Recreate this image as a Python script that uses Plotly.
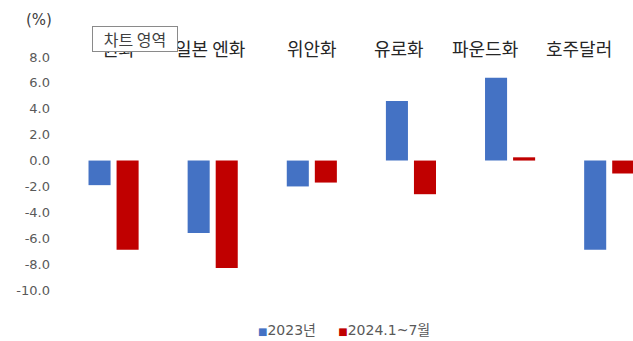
import plotly.graph_objects as go

categories = ["원화", "일본 엔화", "위안화", "유로화", "파운드화", "호주달러"]
series_2023 = [-1.9, -5.6, -2.0, 4.6, 6.4, -6.9]
series_2024 = [-6.9, -8.3, -1.7, -2.6, 0.25, -1.0]
series_names = ["2023년", "2024.1~7월"]
series_colors = ["#4472C4", "#C00000"]
y_ticks = [8, 6, 4, 2, 0, -2, -4, -6, -8, -10]
y_tick_labels = ["8.0", "6.0", "4.0", "2.0", "0.0", "-2.0", "-4.0", "-6.0", "-8.0", "-10.0"]

FONT = "DejaVu Sans, Noto Sans CJK KR"
KFONT = "Noto Sans CJK KR"
W, H = 633, 341
ML, MR, MT, MB = 64, 0, 57, 51
plot_w = W - ML - MR
plot_h = H - MT - MB

def px_to_paper_x(px):
    return (px - ML) / plot_w

def px_to_paper_y(py):
    return (H - MB - py) / plot_h

fig = go.Figure()
for name, vals, col in zip(series_names, [series_2023, series_2024], series_colors):
    fig.add_trace(go.Bar(x=categories, y=vals, name=name,
                         marker=dict(color=col, line=dict(width=0))))

legend_text = "&nbsp;&nbsp;&nbsp;&nbsp;&nbsp;".join(
    f'<span style="color:{c};font-size:10px">■</span>{n}'
    for n, c in zip(series_names, series_colors)
)

# header labels sit in their own text row above the plot (layout positions, in pixels)
header_label_px = [118, 210, 312, 399, 485, 579]
header_annotations = [
    dict(text=cat, xref="paper", yref="paper",
         x=px_to_paper_x(px), y=px_to_paper_y(48),
         xanchor="center", yanchor="middle", showarrow=False,
         font=dict(family=KFONT, size=18, color="#262626"))
    for cat, px in zip(categories, header_label_px)
]

fig.update_layout(
    width=W, height=H,
    margin=dict(l=ML, r=MR, t=MT, b=MB),
    paper_bgcolor="white", plot_bgcolor="white",
    barmode="group", bargap=0.434, bargroupgap=0.214,
    font=dict(family=FONT, color="#595959", size=12),
    showlegend=False,
    xaxis=dict(type="category", range=[-0.5, 5.24], showticklabels=False,
               showgrid=False, showline=False, zeroline=False, ticks=""),
    yaxis=dict(range=[-10, 8], tickvals=y_ticks, ticktext=y_tick_labels,
               showgrid=False, showline=False, zeroline=False, ticks="",
               tickfont=dict(size=13, color="#595959"), ticklabelstandoff=13),
    annotations=header_annotations + [
        dict(text="(%)", xref="paper", yref="paper",
             x=px_to_paper_x(39), y=px_to_paper_y(20),
             xanchor="center", yanchor="middle",
             showarrow=False, font=dict(size=15, color="#404040")),
        dict(text="&nbsp;&nbsp;&nbsp;차트 영역&nbsp;&nbsp;&nbsp;", xref="paper", yref="paper",
             x=px_to_paper_x(135), y=px_to_paper_y(38.5),
             xanchor="center", yanchor="middle",
             showarrow=False, font=dict(family=KFONT, size=16, color="#404040"),
             bgcolor="white", bordercolor="#8a8a8a", borderwidth=1, borderpad=0),
        dict(text=legend_text, xref="paper", yref="paper",
             x=px_to_paper_x(343.5), y=px_to_paper_y(330),
             xanchor="center", yanchor="middle",
             showarrow=False, font=dict(size=14, color="#595959")),
    ],
)

fig.write_html("out.html")
